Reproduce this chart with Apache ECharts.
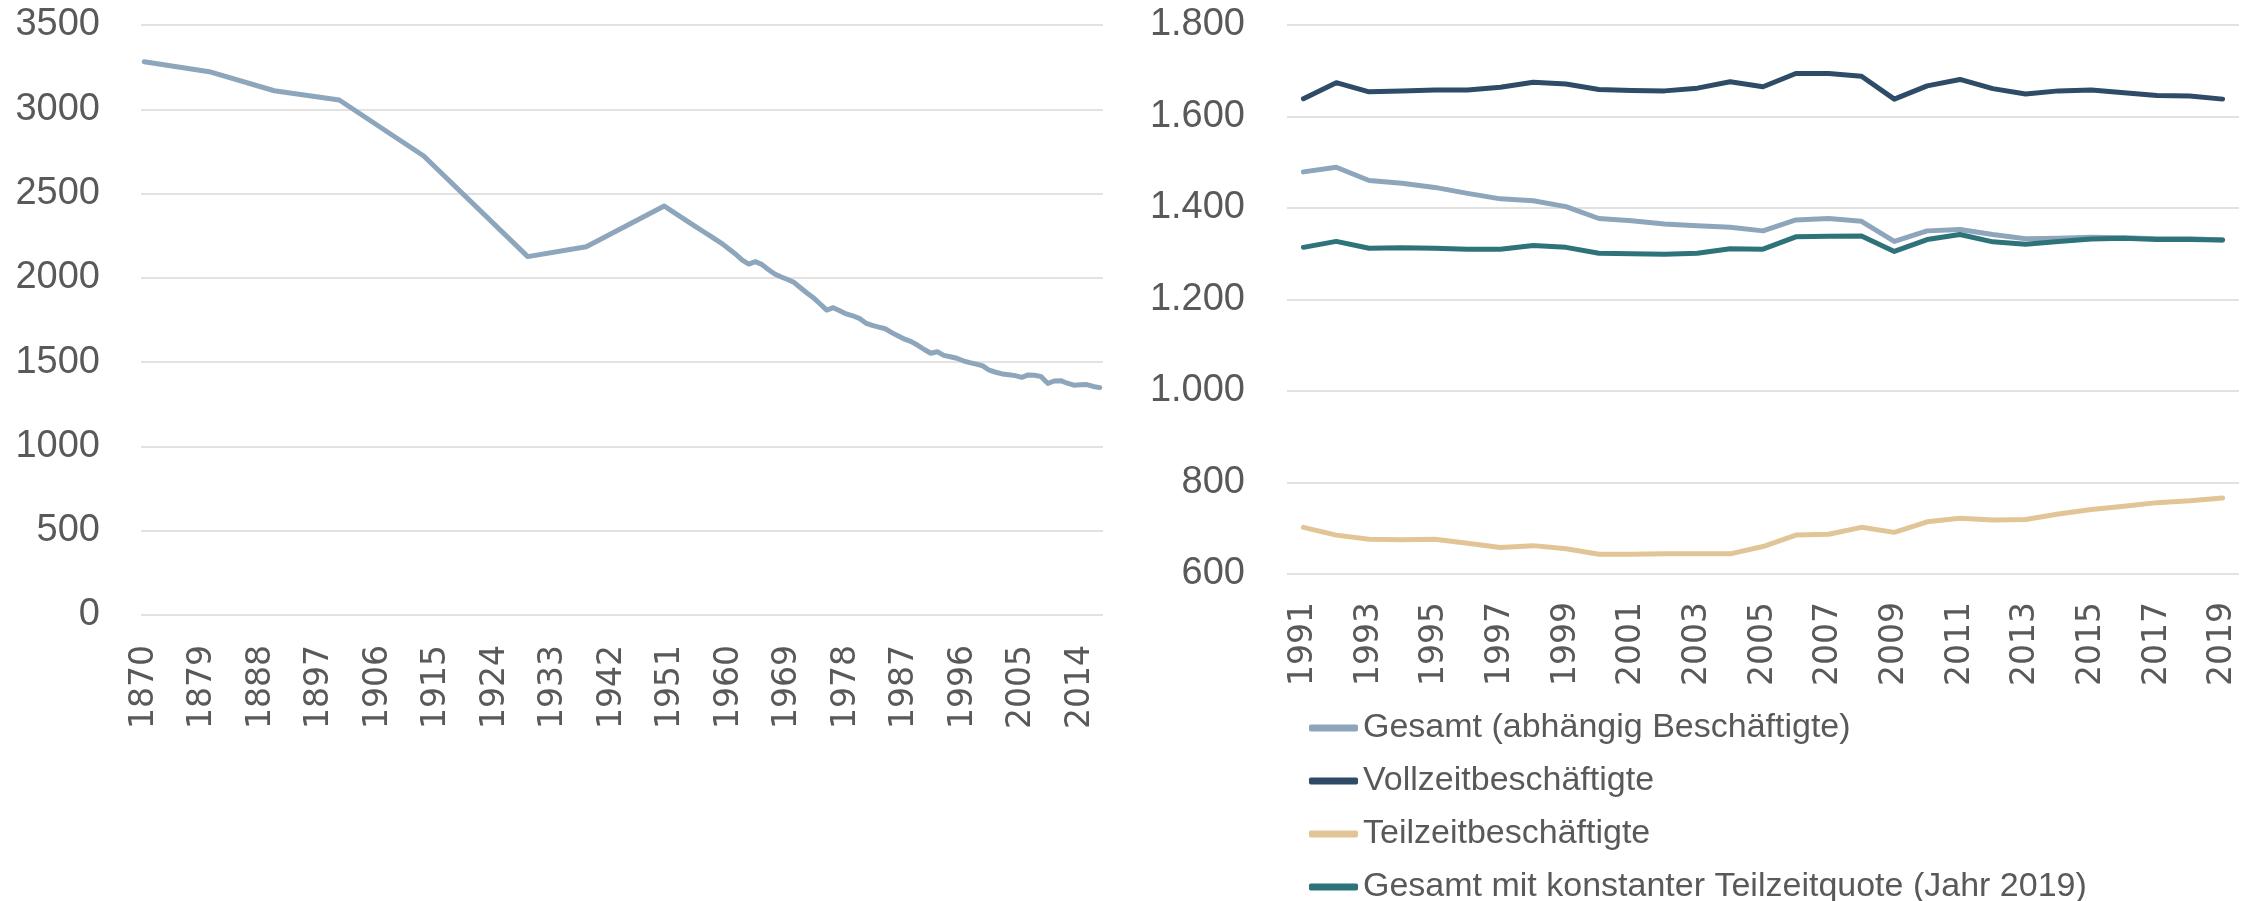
<!DOCTYPE html>
<html>
<head>
<meta charset="utf-8">
<script src="https://cdn.jsdelivr.net/npm/echarts@6/dist/echarts.min.js"></script>
<style>
  html, body { margin: 0; padding: 0; background: #fff; }
  #chart { width: 2260px; height: 901px; }
</style>
</head>
<body>
<div id="chart"></div>
<script>
// Linke Grafik: Jahresarbeitszeit je Erwerbstätigem, 1870-2017
const leftYears = [];
for (let y = 1870; y <= 2017; y++) leftYears.push(String(y));

const hoursYears = [1870, 1880, 1890, 1900, 1913, 1929, 1938,
  1950, 1951, 1952, 1953, 1954, 1955, 1956, 1957, 1958, 1959,
  1960, 1961, 1962, 1963, 1964, 1965, 1966, 1967, 1968, 1969,
  1970, 1971, 1972, 1973, 1974, 1975, 1976, 1977, 1978, 1979,
  1980, 1981, 1982, 1983, 1984, 1985, 1986, 1987, 1988, 1989,
  1990, 1991, 1992, 1993, 1994, 1995, 1996, 1997, 1998, 1999,
  2000, 2001, 2002, 2003, 2004, 2005, 2006, 2007, 2008, 2009,
  2010, 2011, 2012, 2013, 2014, 2015, 2016, 2017];
const hoursValues = [3282, 3223, 3110, 3055, 2723, 2126, 2185,
  2426, 2400, 2375, 2350, 2325, 2300, 2275, 2250, 2225, 2200,
  2170, 2140, 2105, 2082, 2096, 2080, 2050, 2023, 2005, 1990,
  1972, 1940, 1909, 1880, 1845, 1809, 1823, 1805, 1786, 1775,
  1760, 1732, 1718, 1708, 1698, 1675, 1655, 1636, 1622, 1600,
  1575, 1553, 1562, 1540, 1532, 1523, 1508, 1497, 1488, 1478,
  1452, 1440, 1430, 1425, 1420, 1410, 1424, 1422, 1414, 1374,
  1388, 1390, 1375, 1363, 1366, 1367, 1356, 1349];

// Rechte Grafik: 1991-2019
const rightYears = ['1991', '1992', '1993', '1994', '1995', '1996', '1997', '1998', '1999', '2000',
  '2001', '2002', '2003', '2004', '2005', '2006', '2007', '2008', '2009', '2010',
  '2011', '2012', '2013', '2014', '2015', '2016', '2017', '2018', '2019'];
const gesamt = [1479, 1489, 1460, 1454, 1445, 1432, 1420, 1416, 1403, 1377,
  1372, 1365, 1361, 1358, 1350, 1374, 1377, 1371, 1327, 1350,
  1353, 1342, 1333, 1334, 1336, 1335, 1333, 1333, 1330];
const vollzeit = [1639, 1674, 1654, 1656, 1658, 1658, 1664, 1675, 1671, 1659,
  1657, 1656, 1662, 1676, 1665, 1694, 1694, 1688, 1638, 1667,
  1681, 1661, 1649, 1656, 1658, 1652, 1646, 1645, 1638];
const teilzeit = [702, 685, 676, 675, 676, 667, 658, 662, 655, 643,
  643, 644, 644, 644, 660, 685, 687, 702, 691, 714,
  722, 718, 719, 731, 741, 748, 756, 760, 766];
const konstant = [1314, 1327, 1312, 1313, 1312, 1310, 1310, 1318, 1314, 1301,
  1300, 1299, 1301, 1311, 1310, 1337, 1338, 1339, 1305, 1331,
  1342, 1326, 1321, 1327, 1332, 1334, 1331, 1331, 1330];

const SERIES_NAMES = [
  'Gesamt (abhängig Beschäftigte)',
  'Vollzeitbeschäftigte',
  'Teilzeitbeschäftigte',
  'Gesamt mit konstanter Teilzeitquote (Jahr 2019)',
];
const COLORS = ['#8ea6bc', '#2e4b67', '#e2c596', '#2e737a'];

const TEXT = '#595959';
const GRID_LINE = { lineStyle: { color: '#d9d9d9', width: 1.5 } };
const LW = 5;

const fmtDe = v => v >= 1000 ? Math.floor(v / 1000) + '.' + String(v % 1000).padStart(3, '0') : String(v);

function lineSeries(name, data, color, xi) {
  return {
    name, type: 'line', data,
    xAxisIndex: xi, yAxisIndex: xi,
    symbol: 'none', smooth: false,
    lineStyle: { width: LW, color, cap: 'round', join: 'round' },
    itemStyle: { color },
  };
}

const chart = echarts.init(document.getElementById('chart'), null, { renderer: 'canvas' });

chart.setOption({
  animation: false,
  grid: [
    { left: 141, top: 25, width: 962, height: 590 },
    { left: 1287, top: 25, width: 952, height: 549 },
  ],
  legend: {
    data: SERIES_NAMES,
    orient: 'vertical',
    left: 1304, top: 706, height: 195,
    itemWidth: 49, itemHeight: 7, itemGap: 19,
    icon: 'roundRect',
    textStyle: { color: TEXT, fontSize: 34, fontFamily: 'Liberation Sans', lineHeight: 34 },
  },
  xAxis: [
    {
      type: 'category', gridIndex: 0, data: leftYears, boundaryGap: true,
      axisLine: { show: false }, axisTick: { show: false },
      axisLabel: { interval: 8, rotate: 90, margin: 30, color: TEXT, fontSize: 33, fontFamily: 'DejaVu Sans' },
    },
    {
      type: 'category', gridIndex: 1, data: rightYears, boundaryGap: true,
      axisLine: { show: false }, axisTick: { show: false },
      axisLabel: { interval: 1, rotate: 90, margin: 28, color: TEXT, fontSize: 33, fontFamily: 'DejaVu Sans' },
    },
  ],
  yAxis: [
    {
      type: 'value', gridIndex: 0, min: 0, max: 3500, interval: 500,
      axisLine: { show: false }, axisTick: { show: false },
      splitLine: GRID_LINE,
      axisLabel: { margin: 41, color: TEXT, fontSize: 38, fontFamily: 'Liberation Sans', formatter: v => String(v) },
    },
    {
      type: 'value', gridIndex: 1, min: 600, max: 1800, interval: 200,
      axisLine: { show: false }, axisTick: { show: false },
      splitLine: GRID_LINE,
      axisLabel: { margin: 42, color: TEXT, fontSize: 38, fontFamily: 'Liberation Sans', formatter: fmtDe },
    },
  ],
  series: [
    {
      type: 'line', xAxisIndex: 0, yAxisIndex: 0,
      data: hoursYears.map((y, i) => [String(y), hoursValues[i]]),
      symbol: 'none',
      lineStyle: { width: LW, color: COLORS[0], cap: 'round', join: 'round' },
      itemStyle: { color: COLORS[0] },
    },
    lineSeries(SERIES_NAMES[0], gesamt, COLORS[0], 1),
    lineSeries(SERIES_NAMES[1], vollzeit, COLORS[1], 1),
    lineSeries(SERIES_NAMES[2], teilzeit, COLORS[2], 1),
    lineSeries(SERIES_NAMES[3], konstant, COLORS[3], 1),
  ],
});
</script>
</body>
</html>
